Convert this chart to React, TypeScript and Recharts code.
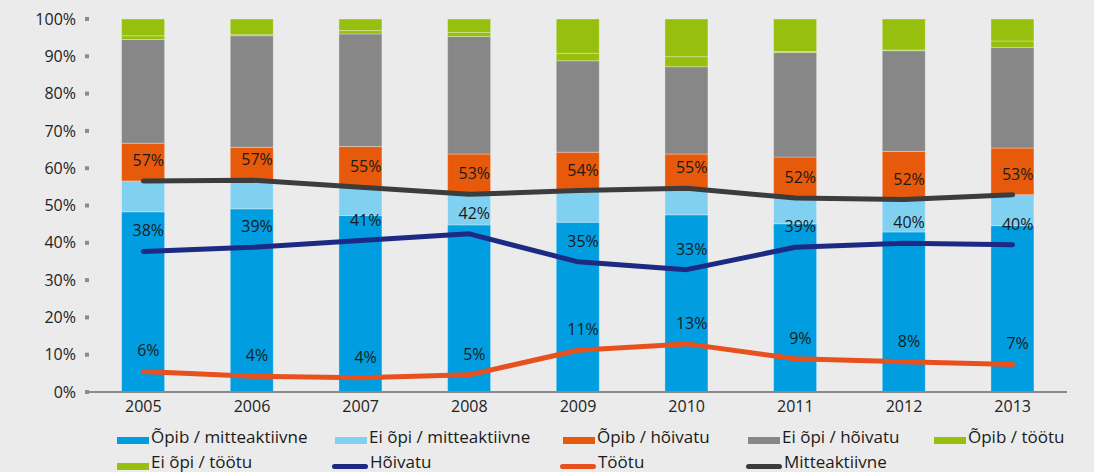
import { ComposedChart, Bar, Line, XAxis, YAxis, LabelList } from 'recharts'

const years = ['2005', '2006', '2007', '2008', '2009', '2010', '2011', '2012', '2013']

// stacked shares (%)
const opibMitte = [48.3, 49.1, 47.3, 44.8, 45.5, 47.5, 45.1, 42.9, 44.6]
const eiOpiMitte = [8.3, 7.7, 7.6, 8.2, 8.5, 7.1, 6.9, 8.7, 8.3]
const opibHoiv = [10.1, 8.8, 10.9, 10.8, 10.3, 9.2, 11.0, 12.9, 12.5]
const eiOpiHoiv = [27.8, 29.9, 30.2, 31.5, 24.5, 23.4, 28.0, 27.0, 27.0]
const opibToot = [1.0, 0.3, 0.9, 1.1, 2.0, 2.7, 0.3, 0.2, 1.7]
const eiOpiToot = [4.5, 4.2, 3.1, 3.6, 9.2, 10.1, 8.7, 8.3, 5.9]

// totals shown as lines
const hoivatu = [37.7, 38.8, 40.6, 42.4, 34.9, 32.8, 38.8, 39.9, 39.5]
const tootu = [5.5, 4.2, 3.8, 4.6, 11.2, 12.9, 8.9, 8.1, 7.4]
const mitteaktiivne = [56.6, 56.8, 54.9, 53.0, 54.0, 54.6, 52.0, 51.6, 52.9]

const yTicks = [0, 10, 20, 30, 40, 50, 60, 70, 80, 90, 100]

const data = years.map((year, i) => ({
  year,
  opibMitte: opibMitte[i],
  eiOpiMitte: eiOpiMitte[i],
  opibHoiv: opibHoiv[i],
  eiOpiHoiv: eiOpiHoiv[i],
  opibToot: opibToot[i],
  eiOpiToot: eiOpiToot[i],
  hoivatu: hoivatu[i],
  tootu: tootu[i],
  mitteaktiivne: mitteaktiivne[i],
}))

const BLUE = '#009ee0'
const LIGHT_BLUE = '#80d0f1'
const ORANGE = '#e85a0b'
const GRAY = '#878787'
const GREEN = '#97bf0d'
const NAVY = '#1d2a84'
const RED = '#e8501e'
const DARK = '#3c3c3c'

const legendItems = [
  { name: 'Õpib / mitteaktiivne', color: BLUE, line: false, x: 117, row: 0 },
  { name: 'Ei õpi / mitteaktiivne', color: LIGHT_BLUE, line: false, x: 335, row: 0 },
  { name: 'Õpib / hõivatu', color: ORANGE, line: false, x: 563, row: 0 },
  { name: 'Ei õpi / hõivatu', color: GRAY, line: false, x: 748, row: 0 },
  { name: 'Õpib / töötu', color: GREEN, line: false, x: 934, row: 0 },
  { name: 'Ei õpi / töötu', color: GREEN, line: false, x: 117, row: 1 },
  { name: 'Hõivatu', color: NAVY, line: true, x: 332, row: 1 },
  { name: 'Töötu', color: RED, line: true, x: 560, row: 1 },
  { name: 'Mitteaktiivne', color: DARK, line: true, x: 746, row: 1 },
]

const pct = (v: any) => `${Math.round(Number(v))}%`
const labelStyle = { fontSize: 16, fill: '#1a1a1a' }
const barStroke = { stroke: '#ffffff', strokeOpacity: 0.3, strokeWidth: 1 }

export default function App() {
  return (
    <div style={{ position: 'fixed', left: 0, top: 0, width: 1094, height: 472, background: '#ebebeb', fontFamily: '"Open Sans", sans-serif', overflow: 'hidden' }}>
      <ComposedChart
        width={1094}
        height={472}
        data={data}
        margin={{ top: 19, right: 27, left: 0, bottom: 50 }}
        barCategoryGap="30%"
      >
        <XAxis
          dataKey="year"
          axisLine={{ stroke: '#8a8a8a', strokeWidth: 2 }}
          tickLine={false}
          tick={{ fontSize: 16, fill: '#222' }}
          tickMargin={3}
          height={30}
        />
        <YAxis
          domain={[0, 100]}
          allowDataOverflow
          ticks={yTicks}
          tickFormatter={(v) => `${v}%`}
          axisLine={false}
          tickLine={{ stroke: '#8c8c8c', strokeWidth: 4 }}
          tickSize={4}
          tickMargin={9}
          tick={{ fontSize: 16, fill: '#222' }}
          width={89}
        />
        <Bar dataKey="opibMitte" stackId="a" fill={BLUE} {...barStroke} isAnimationActive={false} />
        <Bar dataKey="eiOpiMitte" stackId="a" fill={LIGHT_BLUE} {...barStroke} isAnimationActive={false} />
        <Bar dataKey="opibHoiv" stackId="a" fill={ORANGE} {...barStroke} isAnimationActive={false} />
        <Bar dataKey="eiOpiHoiv" stackId="a" fill={GRAY} {...barStroke} isAnimationActive={false} />
        <Bar dataKey="opibToot" stackId="a" fill={GREEN} {...barStroke} isAnimationActive={false} />
        <Bar dataKey="eiOpiToot" stackId="a" fill={GREEN} {...barStroke} isAnimationActive={false} />
        <Line dataKey="hoivatu" type="linear" stroke={NAVY} strokeWidth={5} strokeLinecap="round" strokeLinejoin="round" dot={false} isAnimationActive={false}>
          <LabelList dataKey="hoivatu" position="top" offset={15} dx={5} formatter={pct} style={labelStyle} />
        </Line>
        <Line dataKey="tootu" type="linear" stroke={RED} strokeWidth={5} strokeLinecap="round" strokeLinejoin="round" dot={false} isAnimationActive={false}>
          <LabelList dataKey="tootu" position="top" offset={15} dx={5} formatter={pct} style={labelStyle} />
        </Line>
        <Line dataKey="mitteaktiivne" type="linear" stroke={DARK} strokeWidth={5} strokeLinecap="round" strokeLinejoin="round" dot={false} isAnimationActive={false}>
          <LabelList dataKey="mitteaktiivne" position="top" offset={15} dx={5} formatter={pct} style={labelStyle} />
        </Line>
      </ComposedChart>

      {/* legend laid out in a grid like the original */}
      {legendItems.map((item) => (
        <div
          key={item.name}
          style={{ position: 'absolute', left: item.x, top: item.row === 0 ? 426.5 : 452, height: 20, lineHeight: '20px', display: 'flex', alignItems: 'center' }}
        >
          <span
            style={{
              width: item.line ? 36 : 32,
              height: item.line ? 5 : 7,
              borderRadius: item.line ? 3 : 0,
              background: item.color,
              marginRight: 2,
              flexShrink: 0,
              position: 'relative',
              top: item.row === 0 ? 3.5 : 4,
            }}
          />
          <span style={{ fontSize: 17, color: '#1a1a1a', whiteSpace: 'nowrap' }}>
            {item.name}
          </span>
        </div>
      ))}
    </div>
  )
}
